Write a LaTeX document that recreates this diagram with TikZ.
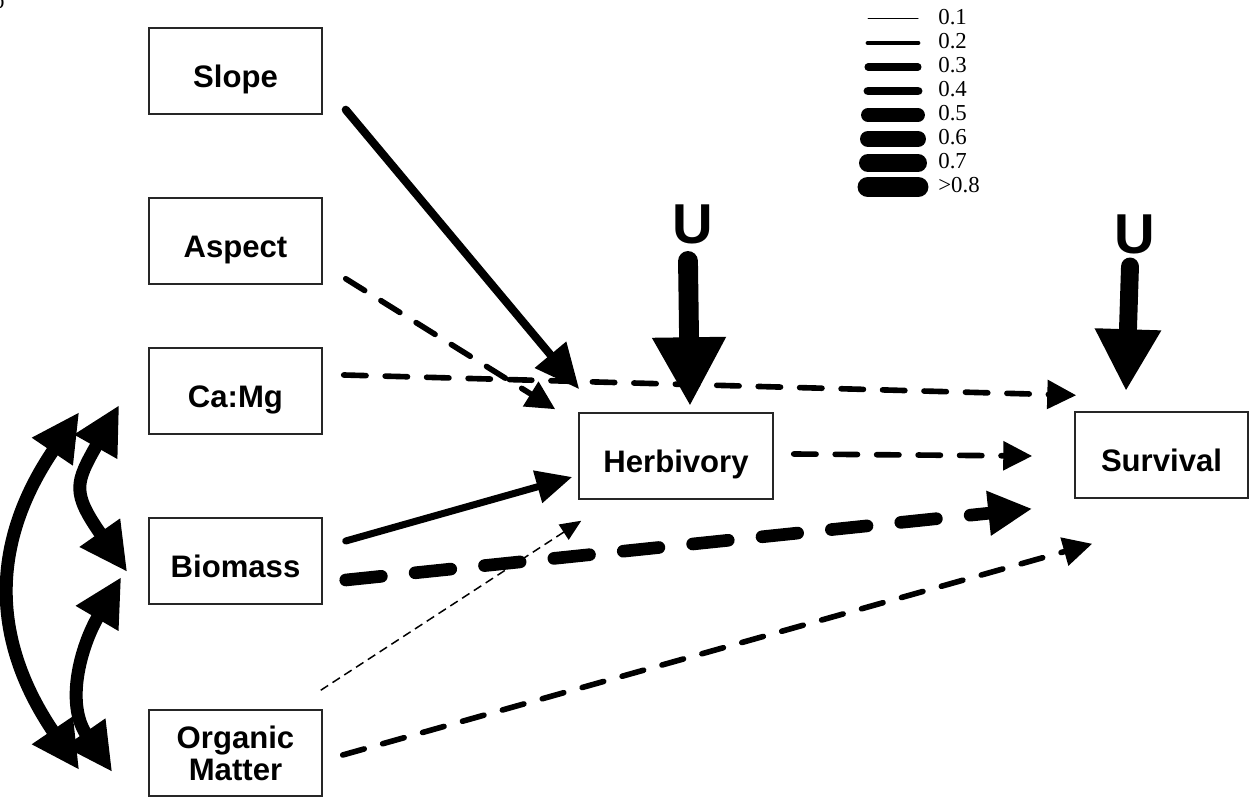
\documentclass[tikz,border=0pt]{standalone}
\usepackage{fontspec}
\setmainfont{Liberation Serif}
\setsansfont{Liberation Sans}
\usetikzlibrary{arrows.meta,positioning,calc}

\tikzset{
  var/.style={draw=black!85,line width=0.85pt,minimum width=3.46cm,minimum height=1.72cm,
    inner sep=0pt,align=center,font=\sffamily\bfseries\fontsize{17.7}{18.3}\selectfont},
  oneline/.style={var,text height=19pt,text depth=0pt},
  uvar/.style={inner sep=0pt,font=\sffamily\bfseries\fontsize{32}{36}\selectfont},
  keylab/.style={anchor=west,inner sep=0pt,font=\fontsize{13}{15}\selectfont},
  strong/.style={line width=4.6pt,line cap=round,-{Triangle[length=0.9cm,width=0.78cm]}},
  firm/.style={line width=4pt,line cap=round,-{Triangle[length=0.72cm,width=0.64cm]}},
  weak/.style={line width=3.2pt,line cap=round,dash pattern=on 12.7pt off 10.9pt,
    -{Triangle[length=0.58cm,width=0.56cm]}},
  heavy/.style={line width=7.2pt,line cap=round,dash pattern=on 20.4pt off 19.3pt,
    -{Triangle[length=0.88cm,width=0.84cm]}},
  faint/.style={line width=0.85pt,dash pattern=on 5pt off 3pt,-{Triangle[length=0.42cm,width=0.36cm]}},
  corr/.style={line width=7.4pt,{Triangle[length=0.96cm,width=0.92cm]}-{Triangle[length=0.96cm,width=0.92cm]}},
  uarr/.style={line width=#1,line cap=round},
}

\begin{document}
\begin{tikzpicture}[x=0.02cm,y=-0.02cm]
  \useasboundingbox (0,0) rectangle (1249,804);
  \node[anchor=base east,inner sep=0pt,font=\fontsize{13}{15}\selectfont] (tag) at (5,9) {b};

  % variables
  \node[oneline] (slope) at (235.5,71) {Slope};
  \node[oneline] (aspect) at (235.5,241) {Aspect};
  \node[oneline] (camg) at (235.5,391) {Ca:Mg};
  \node[oneline] (biomass) at (235.5,561) {Biomass};
  \node[var] (organic) at (235.5,753) {Organic\\Matter};
  \node[oneline,minimum width=3.88cm] (herb) at (676,456) {Herbivory};
  \node[oneline] (surv) at (1161.5,455) {Survival};
  \node[uvar] (uherb) at (693,224) {U};
  \node[uvar] (usurv) at (1135,234.5) {U};

  % paths to herbivory
  \draw[strong] ($(slope.south east)+(23,-5)$) -- ($(herb.north west)+(1,-23)$);
  \draw[weak] ($(aspect.south east)+(23,-6)$) -- ($(herb.north west)+(-23,-3)$);
  \draw[firm] ($(biomass.east)+(23,-20)$) -- ($(herb.west)+(-6,21)$);
  \draw[faint] ($(organic.north east)+(-2,-19)$) -- ($(herb.south west)+(3,21)$);

  % paths to survival
  \draw[weak] ($(camg.east)+(21,-16)$) -- ($(surv.north west)+(2,-16)$);
  \draw[weak] ($(herb.east)+(20,-2)$) -- ($(surv.west)+(-42,1)$);
  \draw[heavy] ($(biomass.east)+(23,19)$) -- ($(surv.south west)+(-42,10)$);
  \draw[weak] ($(organic.east)+(20,2)$) -- ($(surv.south west)+(18,45)$);

  % unexplained variance
  \draw[uarr=11.3pt,-{Triangle[length=1.38cm,width=1.38cm]}] ($(uherb.south)+(-5,17)$) -- ($(herb.north)+(14,-6)$);
  \draw[uarr=10.2pt,-{Triangle[length=1.24cm,width=1.24cm]}] ($(usurv.south)+(-5,12)$) -- ($(surv.north)+(-35.5,-20)$);

  % correlations
  \draw[corr] ($(camg.west)+(-69,21)$) .. controls +(-89,131) and +(-89,-131) .. ($(organic.west)+(-69,17)$);
  \draw[corr] ($(camg.west)+(-29,14)$) .. controls +(-44,78) and +(-56,-80) .. ($(biomass.west)+(-21,11)$);
  \draw[corr] ($(biomass.west)+(-27,16)$) .. controls +(-41,70) and +(-47,-68) .. ($(organic.west)+(-36,19)$);

  % key
  \foreach \w/\val [count=\i from 0] in {0.57/0.1,2.8/0.2,4/0.3,5.1/0.4,7.9/0.5,9.1/0.6,10.2/0.7,11.9/{>0.8}}{
    \coordinate (k\i) at (868,19+24*\i);
    \draw[line width=\w pt,line cap=round] (k\i) -- ++(50,0);
    \node[keylab] (key\i) at (938,17+24*\i) {\val};
  }
\end{tikzpicture}
\end{document}
